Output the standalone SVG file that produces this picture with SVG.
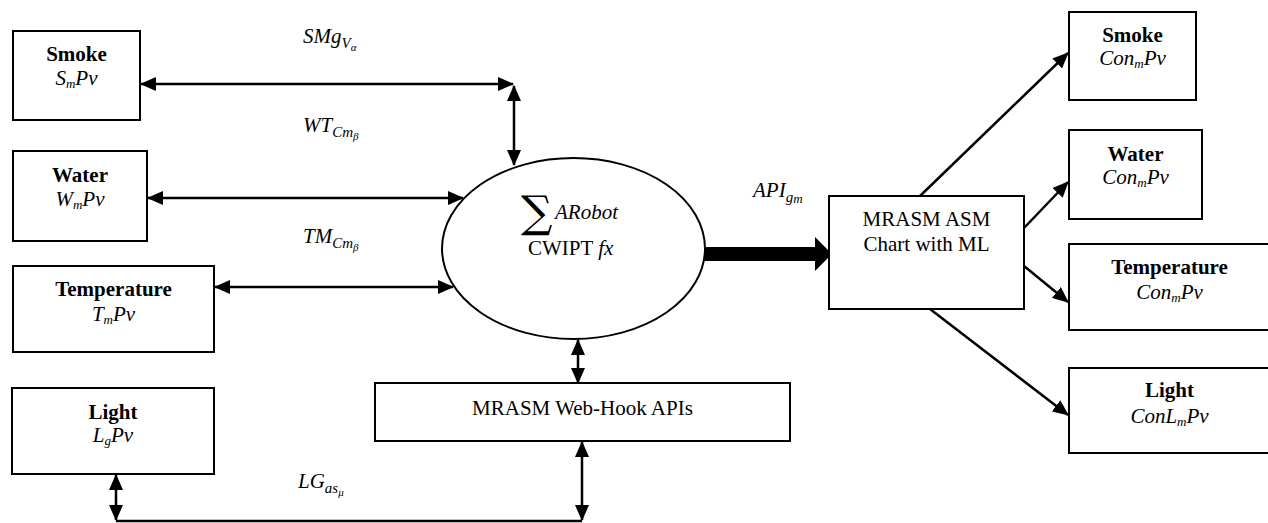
<svg xmlns="http://www.w3.org/2000/svg" width="1268" height="523" viewBox="0 0 1268 523">
<style>
.box{fill:#fff;stroke:#000;stroke-width:2}
.t{font-family:"Liberation Serif","Times New Roman",serif;font-size:21px;fill:#000}
.b{font-weight:bold}
.i{font-style:italic}
.m{font-family:"Liberation Serif","Times New Roman",serif;font-style:italic;font-size:21px;fill:#000}
.c{stroke:#000;stroke-width:2.5;fill:none}
.d{marker-start:url(#ah);marker-end:url(#ah)}
.e{marker-end:url(#ah)}
</style>
<defs>
<marker id="ah" markerUnits="userSpaceOnUse" markerWidth="16" markerHeight="14" refX="15" refY="7" orient="auto-start-reverse" viewBox="0 0 16 14">
<path d="M0,0 L16,7 L0,14 z" fill="#000"/>
</marker>
</defs>

<g id="connectors">
<line class="c d" x1="141" y1="84" x2="513" y2="84"/>
<line class="c d" x1="514" y1="86" x2="514" y2="165"/>
<line class="c d" x1="148" y1="198" x2="463" y2="198"/>
<line class="c d" x1="215" y1="287" x2="453" y2="287"/>
<line class="c d" x1="578" y1="340" x2="578" y2="383"/>
<line class="c d" x1="582" y1="442" x2="582" y2="520"/>
<line class="c d" x1="116" y1="475" x2="116" y2="520"/>
<line class="c" x1="116" y1="521" x2="582" y2="521"/>
<polygon points="703,247 815,247 815,237 832,254 815,271 815,261 703,261" fill="#000"/>
<line class="c e" x1="920" y1="196" x2="1068" y2="53"/>
<line class="c e" x1="1024" y1="228" x2="1068" y2="182"/>
<line class="c e" x1="1024" y1="266" x2="1068" y2="302"/>
<line class="c e" x1="930" y1="309" x2="1068" y2="415"/>
</g>

<g id="labels">
<text class="m" x="303" y="43">SMg<tspan font-size="15" dy="5">V</tspan><tspan font-size="11" dy="3">α</tspan></text>
<text class="m" x="303" y="132">WT<tspan font-size="15" dy="5">Cm</tspan><tspan font-size="11" dy="3">β</tspan></text>
<text class="m" x="303" y="243">TM<tspan font-size="15" dy="5">Cm</tspan><tspan font-size="11" dy="3">β</tspan></text>
<text class="m" x="753" y="197">API<tspan font-size="15" dy="5">g</tspan><tspan font-size="13" dy="1">m</tspan></text>
<text class="m" x="298" y="488">LG<tspan font-size="15" dy="5">as</tspan><tspan font-size="11" dy="3">μ</tspan></text>
</g>

<g id="smoke-in">
<rect class="box" x="13" y="31" width="127" height="89"/>
<text class="t b" x="76.5" y="61" text-anchor="middle">Smoke</text>
<text class="t i" x="76.5" y="85" text-anchor="middle">S<tspan font-size="13" dy="3">m</tspan><tspan dy="-3">Pv</tspan></text>
</g>
<g id="water-in">
<rect class="box" x="13" y="151" width="134" height="90"/>
<text class="t b" x="80" y="182" text-anchor="middle">Water</text>
<text class="t i" x="80" y="206" text-anchor="middle">W<tspan font-size="13" dy="3">m</tspan><tspan dy="-3">Pv</tspan></text>
</g>
<g id="temperature-in">
<rect class="box" x="13" y="266" width="201" height="86"/>
<text class="t b" x="113.5" y="296" text-anchor="middle">Temperature</text>
<text class="t i" x="113.5" y="321" text-anchor="middle">T<tspan font-size="13" dy="3">m</tspan><tspan dy="-3">Pv</tspan></text>
</g>
<g id="light-in">
<rect class="box" x="12" y="388" width="202" height="86"/>
<text class="t b" x="113" y="419" text-anchor="middle">Light</text>
<text class="t i" x="113" y="442" text-anchor="middle">L<tspan font-size="13" dy="3">g</tspan><tspan dy="-3">Pv</tspan></text>
</g>

<g id="arobot">
<ellipse cx="573.5" cy="248.5" rx="131.5" ry="90.5" fill="#fff" stroke="#000" stroke-width="2"/>
<text x="521" y="227" font-family="'DejaVu Serif',serif" font-size="44">∑</text>
<text class="m" x="555" y="219" font-size="22">ARobot</text>
<text class="t" x="528" y="255">CWIPT <tspan class="i">fx</tspan></text>
</g>

<g id="webhook">
<rect class="box" x="375" y="383" width="415" height="58"/>
<text class="t" x="582.5" y="415" text-anchor="middle">MRASM Web-Hook APIs</text>
</g>

<g id="asm-chart">
<rect class="box" x="829" y="196" width="195" height="113"/>
<text class="t" x="926.5" y="226" text-anchor="middle">MRASM ASM</text>
<text class="t" x="926.5" y="251" text-anchor="middle">Chart with ML</text>
</g>

<g id="smoke-out">
<rect class="box" x="1069" y="12" width="127" height="88"/>
<text class="t b" x="1132.5" y="42" text-anchor="middle">Smoke</text>
<text class="t i" x="1132.5" y="65" text-anchor="middle">Con<tspan font-size="13" dy="3">m</tspan><tspan dy="-3">Pv</tspan></text>
</g>
<g id="water-out">
<rect class="box" x="1069" y="130" width="133" height="89"/>
<text class="t b" x="1135.5" y="161" text-anchor="middle">Water</text>
<text class="t i" x="1135.5" y="184" text-anchor="middle">Con<tspan font-size="13" dy="3">m</tspan><tspan dy="-3">Pv</tspan></text>
</g>
<g id="temperature-out">
<rect class="box" x="1069" y="244" width="201" height="86"/>
<text class="t b" x="1169.5" y="274" text-anchor="middle">Temperature</text>
<text class="t i" x="1169.5" y="299" text-anchor="middle">Con<tspan font-size="13" dy="3">m</tspan><tspan dy="-3">Pv</tspan></text>
</g>
<g id="light-out">
<rect class="box" x="1069" y="368" width="201" height="85"/>
<text class="t b" x="1169.5" y="397" text-anchor="middle">Light</text>
<text class="t i" x="1169.5" y="423" text-anchor="middle">ConL<tspan font-size="13" dy="3">m</tspan><tspan dy="-3">Pv</tspan></text>
</g>
</svg>
